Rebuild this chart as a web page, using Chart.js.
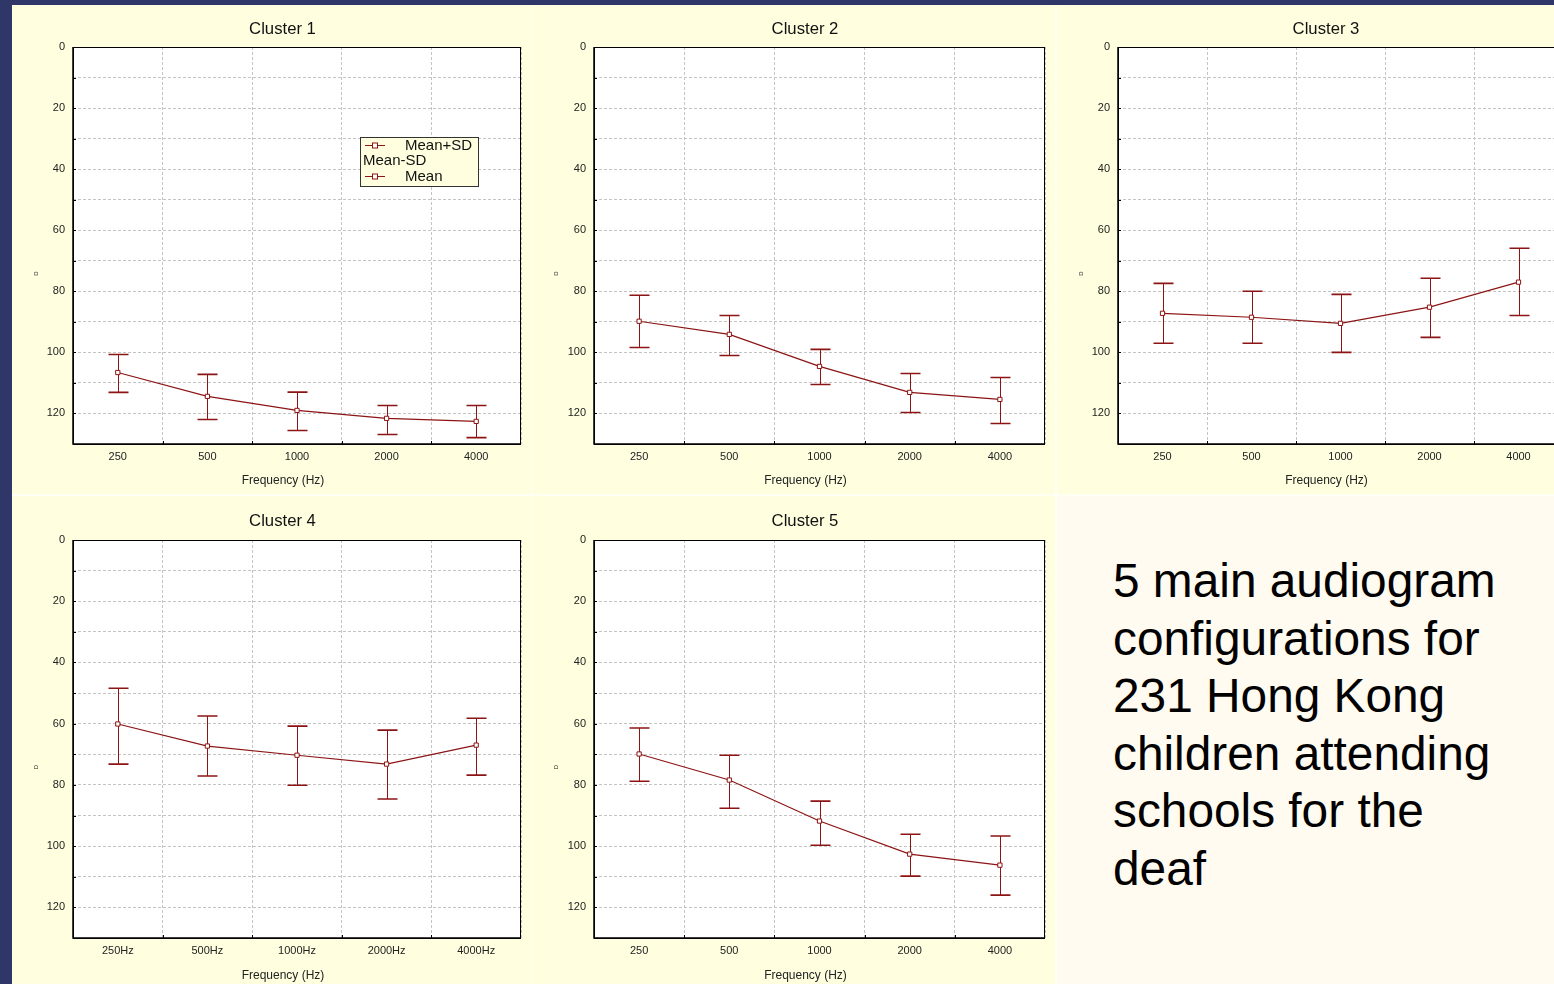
<!DOCTYPE html>
<html>
<head>
<meta charset="utf-8">
<script src="https://cdn.jsdelivr.net/npm/chart.js@4.4.1/dist/chart.umd.min.js"></script>
<style>
  html, body { margin: 0; padding: 0; }
  body { width: 1554px; height: 984px; overflow: hidden; background: #2f3769; position: relative; font-family: "Liberation Sans", Arial, sans-serif; }
  #sheet { position: absolute; left: 12px; top: 5px; width: 1542px; height: 979px; background: #fffff4; overflow: hidden; }
  .panel { position: absolute; background: #ffffe0; }
  .panel canvas { display: block; }
  #note { position: absolute; left: 1045px; top: 491px; width: 497px; height: 488px; background: #fffbf0; }
  #note div { position: absolute; left: 56px; top: 56px; font-size: 47.8px; line-height: 57.5px; color: #000; white-space: nowrap; }
</style>
</head>
<body>
<div id="sheet">
  <div class="panel" style="left:0;top:0;width:519px;height:489px"><canvas id="c1" width="519" height="489"></canvas></div>
  <div class="panel" style="left:520px;top:0;width:523px;height:489px"><canvas id="c2" width="523" height="489"></canvas></div>
  <div class="panel" style="left:1045px;top:0;width:516px;height:489px"><canvas id="c3" width="516" height="489"></canvas></div>
  <div class="panel" style="left:0;top:491px;width:519px;height:493px"><canvas id="c4" width="519" height="493"></canvas></div>
  <div class="panel" style="left:520px;top:491px;width:523px;height:493px"><canvas id="c5" width="523" height="493"></canvas></div>
  <div id="note"><div>5 main audiogram<br>configurations for<br>231 Hong Kong<br>children attending<br>schools for the<br>deaf</div></div>
</div>
<script>
// frequencies
var freqLabels = ['250', '500', '1000', '2000', '4000'];
var freqLabelsHz = ['250Hz', '500Hz', '1000Hz', '2000Hz', '4000Hz'];

// hearing level (dB)
var cluster1Mean  = [106.6, 114.4, 119.0, 121.6, 122.6];
var cluster1Minus = [100.7, 107.2, 113.0, 117.4, 117.4];
var cluster1Plus  = [113.1, 122.0, 125.6, 126.9, 127.9];

var cluster2Mean  = [89.8, 94.1, 104.6, 113.1, 115.4];
var cluster2Minus = [81.3, 87.9, 99.0, 106.9, 108.2];
var cluster2Plus  = [98.4, 101.0, 110.5, 119.7, 123.3];

var cluster3Mean  = [87.2, 88.5, 90.5, 85.2, 77.0];
var cluster3Minus = [77.4, 80.0, 81.0, 75.7, 65.9];
var cluster3Plus  = [97.0, 97.0, 100.0, 95.1, 87.9];

var cluster4Mean  = [60.1, 67.3, 70.3, 73.2, 67.0];
var cluster4Minus = [48.4, 57.5, 60.8, 62.1, 58.2];
var cluster4Plus  = [73.2, 77.1, 80.1, 84.6, 76.8];

var cluster5Mean  = [69.9, 78.4, 91.8, 102.6, 106.2];
var cluster5Minus = [61.4, 70.3, 85.3, 96.1, 96.7];
var cluster5Plus  = [78.8, 87.6, 99.7, 109.8, 116.0];

var yTicksShown = [0, 20, 40, 60, 80, 100, 120];

var RED = '#8c1414';
var FONT = '"Liberation Sans", Arial, sans-serif';

// white plot area, box, inward ticks, titles and the little axis letter
var plotFrame = {
  id: 'plotFrame',
  beforeDraw: function(chart) {
    var a = chart.chartArea, ctx = chart.ctx;
    ctx.save();
    ctx.fillStyle = '#ffffff';
    ctx.fillRect(a.left, a.top, a.right - a.left, a.bottom - a.top);
    ctx.restore();
  },
  afterDraw: function(chart, args, opts) {
    var a = chart.chartArea, ctx = chart.ctx;
    var y = chart.scales.y, x = chart.scales.x;
    ctx.save();
    ctx.strokeStyle = '#000';
    ctx.lineWidth = 1;
    ctx.strokeRect(a.left + 0.5, a.top + 0.5, a.right - a.left - 1, a.bottom - a.top);
    ctx.lineWidth = 1.5;
    ctx.beginPath();
    ctx.moveTo(a.left, a.top); ctx.lineTo(a.left, a.bottom); ctx.lineTo(a.right, a.bottom);
    ctx.stroke();
    ctx.lineWidth = 1;
    ctx.beginPath();
    y.ticks.forEach(function(t) {
      var py = Math.round(y.getPixelForValue(t.value)) + 0.5;
      ctx.moveTo(a.left, py); ctx.lineTo(a.left + 3, py);
    });
    for (var i = 1; i < x.ticks.length; i++) {
      var px = Math.round((x.getPixelForTick(i - 1) + x.getPixelForTick(i)) / 2) + 0.5;
      ctx.moveTo(px, a.bottom); ctx.lineTo(px, a.bottom - 3);
    }
    ctx.stroke();

    // chart title and x axis title, set a little left of the plot centre
    var cx = (a.left + a.right) / 2;
    ctx.textAlign = 'center';
    ctx.textBaseline = 'middle';
    ctx.fillStyle = '#111';
    ctx.font = '16.7px ' + FONT;
    ctx.fillText(opts.title, cx - 14.5, opts.titleY);
    ctx.fillStyle = '#222';
    ctx.font = '12px ' + FONT;
    ctx.fillText('Frequency (Hz)', cx - 14, opts.xTitleY);

    // axis letter
    ctx.translate(24, (a.top + a.bottom) / 2 + 28);
    ctx.rotate(-Math.PI / 2);
    ctx.font = '6px ' + FONT;
    ctx.fillText('D', 0, 0);
    ctx.restore();
  }
};

// whiskers: mean-SD .. mean+SD
var errorBars = {
  id: 'errorBars',
  beforeDatasetsDraw: function(chart, args, opts) {
    var x = chart.scales.x, y = chart.scales.y, ctx = chart.ctx;
    ctx.save();
    ctx.strokeStyle = RED;
    for (var i = 0; i < opts.minus.length; i++) {
      var px = Math.round(x.getPixelForTick(i)) + 0.5;
      var y1 = y.getPixelForValue(opts.minus[i]);
      var y2 = y.getPixelForValue(opts.plus[i]);
      ctx.lineWidth = 1;
      ctx.beginPath();
      ctx.moveTo(px, y1); ctx.lineTo(px, y2);
      ctx.stroke();
      ctx.lineWidth = 1.6;
      ctx.beginPath();
      ctx.moveTo(px - 10, y1); ctx.lineTo(px + 10, y1);
      ctx.moveTo(px - 10, y2); ctx.lineTo(px + 10, y2);
      ctx.stroke();
    }
    ctx.restore();
  }
};

// boxed legend in Cluster 1
var boxLegend = {
  id: 'boxLegend',
  afterDraw: function(chart, args, opts) {
    if (!opts.show) return;
    var a = chart.chartArea, ctx = chart.ctx;
    var bx = a.left + 287, by = a.top + 90, bw = 118, bh = 49;
    ctx.save();
    ctx.fillStyle = '#ffffe0';
    ctx.fillRect(bx, by, bw, bh);
    ctx.strokeStyle = '#333';
    ctx.lineWidth = 1;
    ctx.strokeRect(bx + 0.5, by + 0.5, bw, bh);
    ctx.font = '15px ' + FONT;
    ctx.fillStyle = '#111';
    ctx.textBaseline = 'middle';
    function marker(yy) {
      ctx.strokeStyle = RED;
      ctx.beginPath();
      ctx.moveTo(bx + 5, yy); ctx.lineTo(bx + 25, yy);
      ctx.stroke();
      ctx.fillStyle = '#fff';
      ctx.fillRect(bx + 12.5, yy - 2.5, 5, 5);
      ctx.strokeRect(bx + 12.5, yy - 2.5, 5, 5);
      ctx.fillStyle = '#111';
    }
    marker(by + 8.5);
    ctx.fillText('Mean+SD', bx + 45, by + 8.5);
    ctx.fillText('Mean-SD', bx + 3, by + 24);
    marker(by + 39.5);
    ctx.fillText('Mean', bx + 45, by + 39.5);
    ctx.restore();
  }
};

function makePanel(id, title, labels, mean, minus, plus, row, yWidth, showLegend) {
  var topSpace = row === 1 ? 42 : 44;
  var xHeight = row === 1 ? 50 : 51;
  return new Chart(document.getElementById(id), {
    type: 'line',
    data: {
      labels: labels,
      datasets: [{
        label: 'Mean',
        data: mean,
        borderColor: RED,
        borderWidth: 1.2,
        backgroundColor: '#ffffff',
        pointStyle: 'rect',
        pointRadius: 3,
        pointBorderWidth: 1,
        pointBorderColor: RED,
        pointBackgroundColor: '#ffffff',
        tension: 0
      }]
    },
    options: {
      responsive: false,
      animation: false,
      devicePixelRatio: 1,
      layout: { padding: { left: 0, right: 10, top: topSpace, bottom: 0 } },
      plugins: {
        legend: { display: false },
        tooltip: { enabled: false },
        title: { display: false },
        plotFrame: { title: title, titleY: row === 1 ? 24 : 25, xTitleY: row === 1 ? 476 : 480 },
        errorBars: { minus: minus, plus: plus },
        boxLegend: { show: !!showLegend }
      },
      scales: {
        x: {
          type: 'category',
          offset: true,
          afterFit: function(s) { s.height = xHeight; },
          grid: { offset: true, color: '#c4c4c4', drawTicks: false },
          border: { display: false, dash: [3, 2] },
          ticks: { padding: 6.4, color: '#222', font: { family: FONT, size: 11 } }
        },
        y: {
          min: 0,
          max: 130,
          reverse: true,
          afterFit: function(s) { s.width = yWidth; },
          grid: { color: '#c4c4c4', drawTicks: false },
          border: { display: false, dash: [3, 2] },
          ticks: {
            stepSize: 10,
            padding: 8,
            color: '#222',
            font: { family: FONT, size: 11 },
            callback: function(v) { return yTicksShown.indexOf(v) >= 0 ? v : ''; }
          }
        }
      }
    },
    plugins: [plotFrame, errorBars, boxLegend]
  });
}

makePanel('c1', 'Cluster 1', freqLabels, cluster1Mean, cluster1Minus, cluster1Plus, 1, 61, true);
makePanel('c2', 'Cluster 2', freqLabels, cluster2Mean, cluster2Minus, cluster2Plus, 1, 62, false);
makePanel('c3', 'Cluster 3', freqLabels, cluster3Mean, cluster3Minus, cluster3Plus, 1, 61, false);
makePanel('c4', 'Cluster 4', freqLabelsHz, cluster4Mean, cluster4Minus, cluster4Plus, 2, 61, false);
makePanel('c5', 'Cluster 5', freqLabels, cluster5Mean, cluster5Minus, cluster5Plus, 2, 62, false);
</script>
</body>
</html>
